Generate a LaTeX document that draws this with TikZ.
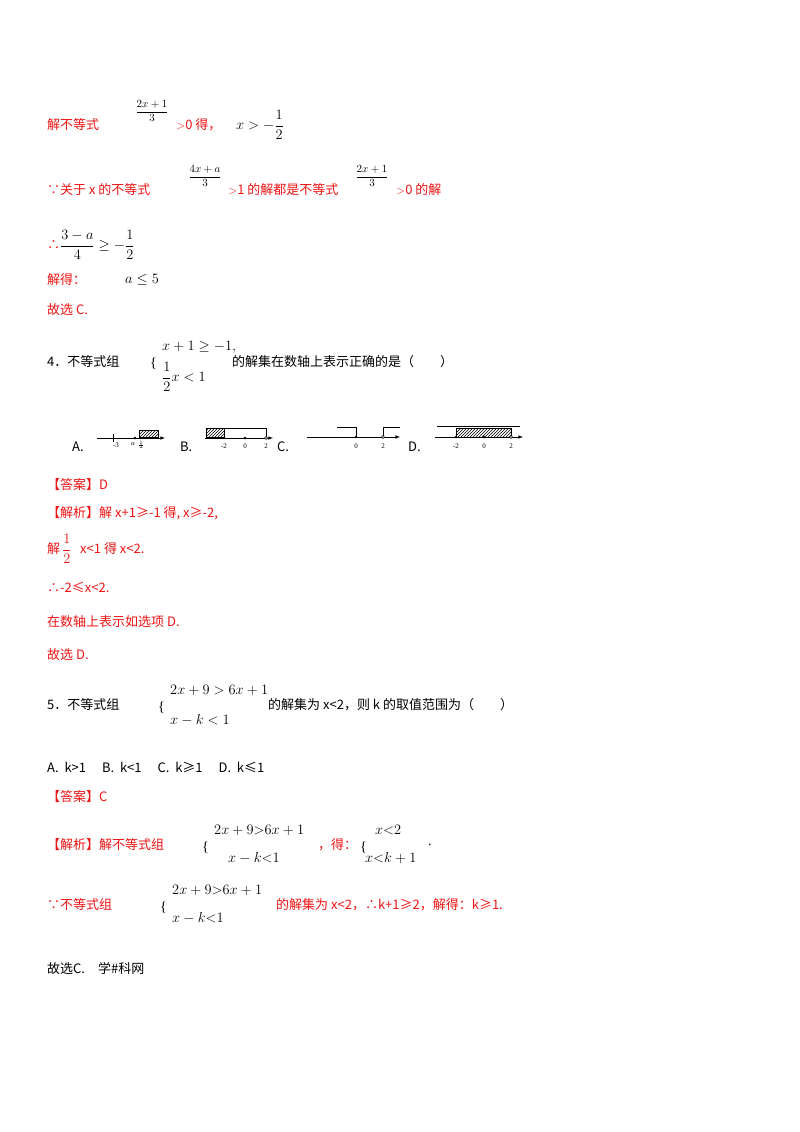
\documentclass[tikz,border=0pt]{standalone}
\usepackage{amsmath,amssymb}
\usepackage{fontspec}
\setmainfont{Liberation Serif}
\newfontfamily\cjk{Noto Sans CJK SC}
\usetikzlibrary{patterns}
\definecolor{rd}{RGB}{240,20,20}
\tikzset{
 t/.style={anchor=west,inner sep=0pt,font=\fontsize{13}{15}\selectfont\cjk},
 r/.style={t,text=rd},
 m/.style={anchor=west,inner sep=0pt,font=\fontsize{14}{16}\selectfont},
 sm/.style={anchor=center,inner sep=0pt,font=\fontsize{11}{13}\selectfont},
 tiny/.style={anchor=center,inner sep=0pt,font=\fontsize{7}{8}\selectfont},
 ax/.style={line width=0.6pt,-latex},
 hat/.style={pattern=north east lines,draw,line width=0.4pt},
}
\begin{document}
\begin{tikzpicture}[x=1pt,y=-1pt]
\useasboundingbox[fill=white] (0,0) rectangle (800,1132);
% first block
\node[r] (l1) at (47,125) {解不等式};
\node[sm] (f1) at (152,111) {$\dfrac{2x+1}{3}$};
\node[r] (l1b) at (176,125) {$>$0 得，};
\node[m] (l1c) at (236,125) {$x>-\dfrac{1}{2}$};
\node[r] (l2) at (47,190) {∵关于 \textit{x} 的不等式};
\node[sm] (f2) at (205,176) {$\dfrac{4x+a}{3}$};
\node[r] (l2b) at (228,190) {$>$1 的解都是不等式};
\node[sm] (f3) at (372,176) {$\dfrac{2x+1}{3}$};
\node[r] (l2c) at (396,190) {$>$0 的解};
\node[r] (l3) at (47,245) {∴};
\node[m] (l3b) at (60,245) {$\dfrac{3-a}{4}\geq-\dfrac{1}{2}$};
\node[r] (l4) at (47,280) {解得：};
\node[m] (l4b) at (125,280) {$a\leq5$};
\node[r] (l5) at (47,310) {故选 C.};
% question 4
\node[t] (q4) at (47,362) {4．不等式组};
\node[m] (q4b) at (150,364) {\{};
\node[m] (q4c) at (162,347) {$x+1\geq-1,$};
\node[m] (q4d) at (162,377) {$\dfrac{1}{2}x<1$};
\node[t] (q4e) at (232,362) {的解集在数轴上表示正确的是（　　）};
% options
\node[t] (oA) at (72,447) {A.};
\draw[ax] (97,438) -- (165,438);
\draw (113,434) -- (113,442);
\fill (135,438) circle (1.3);
\draw[hat] (139,430) rectangle (158,437);
\node[tiny] (a1) at (116,445) {-3};
\node[tiny] (a2) at (133,444) {$a$};
\node[tiny,font=\fontsize{5}{6}\selectfont] (a3) at (141,445) {$\frac12$};
\node[t] (oB) at (180,447) {B.};
\draw[ax] (205,438) -- (273,438);
\draw[hat] (206,428) rectangle (224,437);
\draw (224,428) -- (266,428) -- (266,438);
\fill (224,438) circle (1.3); \fill (245,438) circle (1.3);
\draw[fill=white] (266,438) circle (1.5);
\node[tiny] (b1) at (224,446) {-2};
\node[tiny] (b2) at (245,446) {0};
\node[tiny] (b3) at (266,446) {2};
\node[t] (oC) at (277,447) {C.};
\draw[ax] (307,437) -- (400,437);
\draw (337,427) -- (356,427) -- (356,437);
\draw (383,437) -- (383,427) -- (400,427);
\fill (356,437) circle (1.3);
\draw[fill=white] (383,437) circle (1.5);
\node[tiny] (c1) at (356,446) {0};
\node[tiny] (c2) at (383,446) {2};
\node[t] (oD) at (408,447) {D.};
\draw (437,426) -- (520,426);
\draw[ax] (435,437) -- (523,437);
\draw[hat] (456,428) rectangle (511,437);
\fill (456,437) circle (1.3); \fill (484,437) circle (1.3);
\draw[fill=white] (511,437) circle (1.5);
\node[tiny] (d1) at (456,446) {-2};
\node[tiny] (d2) at (484,446) {0};
\node[tiny] (d3) at (511,446) {2};
% answer 4
\node[r] (an4) at (47,485) {【答案】D};
\node[r] (ex1) at (47,513) {【解析】解 x+1≥-1 得, x≥-2,};
\node[r] (ex2) at (47,549) {解};
\node[m,text=rd] (ex2b) at (62,549) {$\dfrac{1}{2}$};
\node[r] (ex2c) at (80,549) {x<1 得 x<2.};
\node[r] (ex3) at (47,587) {∴-2≤x<2.};
\node[r] (ex4) at (47,622) {在数轴上表示如选项 D.};
\node[r] (ex5) at (47,655) {故选 D.};
% question 5
\node[t] (q5) at (47,705) {5．不等式组};
\node[m] (q5b) at (158,708) {\{};
\node[m] (q5c) at (170,690) {$2x+9>6x+1$};
\node[m] (q5d) at (170,720) {$x-k<1$};
\node[t] (q5e) at (268,705) {的解集为 \textit{x}<2，则 \textit{k} 的取值范围为（　　）};
\node[t] (o5) at (47,767) {A.\ \ \textit{k}>1\quad\ B.\ \ \textit{k}<1\quad\ C.\ \ \textit{k}≥1\quad\ D.\ \ \textit{k}≤1};
\node[r] (an5) at (47,797) {【答案】C};
\node[r] (e51) at (47,845) {【解析】解不等式组};
\node[m] (e51b) at (202,848) {\{};
\node[m] (e51c) at (214,830) {$2x+9{>}6x+1$};
\node[m] (e51d) at (228,858) {$x-k{<}1$};
\node[r] (e51e) at (318,845) {，得：};
\node[m] (e51f) at (360,848) {\{};
\node[m] (e51g) at (375,830) {$x{<}2$};
\node[m] (e51h) at (365,858) {$x{<}k+1$};
\node[m] (e51i) at (428,845) {.};
\node[r] (e52) at (47,905) {∵不等式组};
\node[m] (e52b) at (160,908) {\{};
\node[m] (e52c) at (172,890) {$2x+9{>}6x+1$};
\node[m] (e52d) at (172,918) {$x-k{<}1$};
\node[r] (e52e) at (276,905) {的解集为 \textit{x}<2，∴\textit{k}+1≥2，解得：\textit{k}≥1.};
\node[t] (e53) at (47,968) {故选C.　学\#科网};
\end{tikzpicture}
\end{document}
